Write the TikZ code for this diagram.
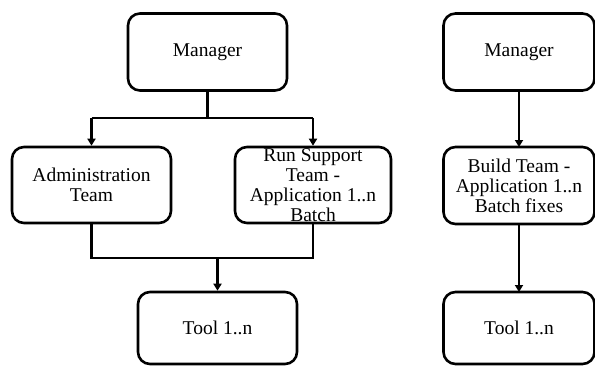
\documentclass[tikz,border=0pt]{standalone}
\usepackage{fontspec}
\setmainfont{Liberation Serif}
\usetikzlibrary{arrows.meta}

\begin{document}
\begin{tikzpicture}[
                x=1pt,y=1pt,
                line width=2.6pt,
                box/.style={draw,rounded corners=12pt,align=center,inner sep=0pt,
                            font=\fontsize{19.5}{20}\selectfont},
                arr/.style={-{Triangle[width=8pt,length=7pt]}}] %

\useasboundingbox (0,0) rectangle (595,365);

% left chart
                    % 1
                    \node[box,minimum width=159,minimum height=77] (MGRL) at (207.5,313) {Manager}; % 1

                    % 2
                    \node[box,minimum width=159,minimum height=76] (ADMIN) at (91.5,180) {Administration\\Team}; % 2
                    \node[box,minimum width=156,minimum height=76] (RUNSUP) at (313,180) {Run Support\\Team -\\Application 1..n\\Batch}; % 2

                    % 3
                    \node[box,minimum width=159,minimum height=72] (TOOLL) at (217.5,37) {Tool 1..n}; % 3

                    \coordinate (JTOP) at (207.5,247);
                    \coordinate (JBOT) at (217.5,107);

                    \draw (MGRL.south) -- (JTOP);
                    \draw (JTOP -| ADMIN) -- (JTOP -| RUNSUP);
                    \path [arr] (JTOP -| ADMIN) edge (ADMIN.north);
                    \path [arr] (JTOP -| RUNSUP) edge (RUNSUP.north);

                    \draw (ADMIN.south) |- (JBOT -| RUNSUP) -- (RUNSUP.south);
                    \path [arr] (JBOT) edge (TOOLL.north);


%%%%%%%%%%%%%%%%%%%%%%%%%%%%%%%%%%%%%%%%%%%%%%%%%%%%%%%%%%%%%%%%%%%%%%%%%%%%%%%%%%%%

% right chart
                    % 1
                    \node[box,minimum width=151,minimum height=77] (MGRR) at (519,313) {Manager}; % 1
                    \path [arr] (MGRR.south) edge (519,218);

                    % 2
                    \node[box,minimum width=151,minimum height=77] (BUILD) at (519,179.5) {Build Team -\\Application 1..n\\Batch fixes}; % 2
                    \path [arr] (BUILD.south) edge (519,73);

                    % 3
                    \node[box,minimum width=151,minimum height=72] (TOOLR) at (519,37) {Tool 1..n}; % 3

\end{tikzpicture}
\end{document}
